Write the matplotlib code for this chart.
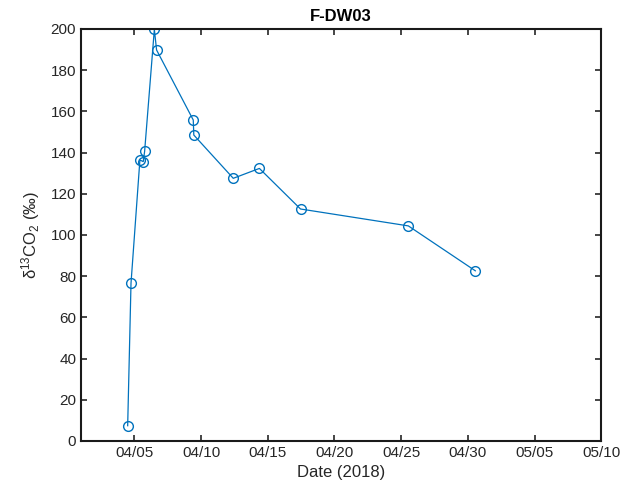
import matplotlib
matplotlib.use("Agg")
import matplotlib.pyplot as plt
import matplotlib.dates as mdates
import pandas as pd

plt.rcParams['font.family'] = ['Liberation Sans', 'DejaVu Sans']
plt.rcParams['mathtext.default'] = 'regular'

dates = ["2018-04-04 12:00", "2018-04-04 18:00", "2018-04-05 10:00",
         "2018-04-05 16:00", "2018-04-05 18:30", "2018-04-06 12:00",
         "2018-04-06 16:00", "2018-04-09 10:00", "2018-04-09 11:00",
         "2018-04-12 10:00", "2018-04-14 09:00", "2018-04-17 11:00",
         "2018-04-25 13:00", "2018-04-30 13:30"]
values = [7.4, 76.6, 136.4, 135.6, 140.6, 199.8, 189.8, 155.8, 148.5,
          127.5, 132.3, 112.6, 104.4, 82.6]
xtick_dates = ["2018-04-05", "2018-04-10", "2018-04-15", "2018-04-20",
               "2018-04-25", "2018-04-30", "2018-05-05", "2018-05-10"]
yticks = [0, 20, 40, 60, 80, 100, 120, 140, 160, 180, 200]

x = pd.to_datetime(dates)
fig = plt.figure(figsize=(6.23, 4.96), dpi=100)
ax = fig.add_axes([0.130, 0.111, 0.835, 0.8306])
ax.plot(x, values, color='#0072BD', lw=0.9, marker='o', ms=7,
        mfc='none', mec='#0072BD', mew=1.0)
ax.set_xlim(pd.Timestamp("2018-04-01"), pd.Timestamp("2018-05-10"))
ax.set_ylim(0, 200)
ax.set_xticks(pd.to_datetime(xtick_dates))
ax.xaxis.set_major_formatter(mdates.DateFormatter('%m/%d'))
ax.set_yticks(yticks)
ax.tick_params(direction='in', top=True, right=True, labelsize=11,
               colors='#262626', length=4, width=1.2)
for s in ax.spines.values():
    s.set_linewidth(1.5)
    s.set_color('#1a1a1a')
ax.set_xlabel('Date (2018)', fontsize=12, color='#262626')
ax.set_ylabel(r'$\delta^{13}CO_2$ (‰)', fontsize=12, color='#262626', labelpad=6)
ax.set_title('F-DW03', fontsize=12, fontweight='bold', color='#000000', pad=6)
fig.savefig('out.png', dpi=100)
